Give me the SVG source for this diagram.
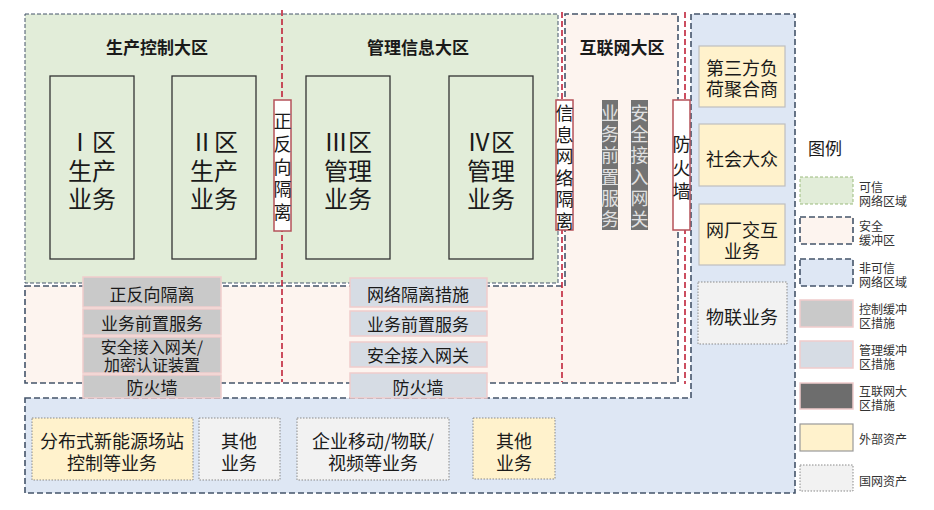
<svg xmlns="http://www.w3.org/2000/svg" width="934" height="510" viewBox="0 0 934 510">
<style>
text{font-family:"Noto Sans CJK SC","Noto Sans",sans-serif;fill:#1a1a1a;text-anchor:middle;dominant-baseline:central}
.t{font-size:17px;font-weight:bold}
.big{font-size:24px}
.v{font-size:18px}
.w{fill:#e0e0e0}
.m{font-size:17px}
.lg{font-size:12px;text-anchor:start;fill:#333}
.zb{stroke:#44546a;stroke-width:1.6;stroke-dasharray:6 3;fill:none}
.zg{stroke:#44546a;stroke-width:1;stroke-dasharray:4 2;fill:none}
.red{stroke:#c0243a;stroke-width:1.6;stroke-dasharray:6 3;fill:none}
.biz{fill:#e2edd9;stroke:#333;stroke-width:1.3}
.iso{fill:#fff;stroke:#b5525a;stroke-width:1.5}
.ctl{fill:#c9c9c9;stroke:#f0cccc;stroke-width:1.5}
.mgt{fill:#d6dce4;stroke:#f0cccc;stroke-width:1.5}
.net{fill:#737373}
.ext{fill:#fff2cc;stroke:#bfbfbf;stroke-width:1.2}
.sg{fill:#f2f2f2;stroke:#8a8a8a;stroke-width:1;stroke-dasharray:1.5 1.5}
.exd{fill:#fff2cc;stroke:#8a8a8a;stroke-width:1;stroke-dasharray:1.5 1.5}
</style>
<rect width="934" height="510" fill="#fff"/>
<g id="zones">
<path id="untrusted" d="M25,398 H691 V14 H795 V493 H25 Z" fill="#dee7f4"/>
<path d="M25,398 H691 V14 H795 V493 H25 Z" class="zb"/>
<path id="buffer" d="M25,286 H565 V14 H678 V383 H25 Z" fill="#fdf4ef"/>
<path d="M25,286 H565 V14 H678 V383 H25 Z" class="zb"/>
<rect id="trusted" x="25" y="14" width="533" height="269" fill="#e2edd9"/>
<rect x="25" y="14" width="533" height="269" class="zg"/>
</g>
<g id="connectors">
<line x1="282" y1="10" x2="282" y2="382" class="red"/>
<line x1="562" y1="12" x2="562" y2="382" class="red"/>
<line x1="685" y1="12" x2="685" y2="384" class="red"/>
</g>
<g id="titles">
<text class="t" x="157" y="46">生产控制大区</text>
<text class="t" x="418" y="46">管理信息大区</text>
<text class="t" x="622" y="46">互联网大区</text>
</g>
<g id="zone1">
<rect class="biz" x="50" y="76" width="84" height="183"/>
<text class="big" x="92" y="140">Ⅰ区<tspan x="92" dy="28.5">生产</tspan><tspan x="92" dy="28.5">业务</tspan></text>
</g>
<g id="zone2">
<rect class="biz" x="172" y="76" width="84" height="183"/>
<text class="big" x="214" y="140">Ⅱ区<tspan x="214" dy="28.5">生产</tspan><tspan x="214" dy="28.5">业务</tspan></text>
</g>
<g id="zone3">
<rect class="biz" x="306" y="76" width="84" height="183"/>
<text class="big" x="348" y="140">Ⅲ区<tspan x="348" dy="28.5">管理</tspan><tspan x="348" dy="28.5">业务</tspan></text>
</g>
<g id="zone4">
<rect class="biz" x="449" y="76" width="84" height="183"/>
<text class="big" x="491" y="140">Ⅳ区<tspan x="491" dy="28.5">管理</tspan><tspan x="491" dy="28.5">业务</tspan></text>
</g>
<g id="iso1">
<rect class="iso" x="274" y="100" width="17" height="131"/>
<text class="v" x="282.5" y="120">正<tspan x="282.5" dy="22.8">反</tspan><tspan x="282.5" dy="22.8">向</tspan><tspan x="282.5" dy="22.8">隔</tspan><tspan x="282.5" dy="22.8">离</tspan></text>
</g>
<g id="iso2">
<rect class="iso" x="556" y="100" width="17" height="130"/>
<text class="v" x="564.5" y="112">信<tspan x="564.5" dy="21.6">息</tspan><tspan x="564.5" dy="21.6">网</tspan><tspan x="564.5" dy="21.6">络</tspan><tspan x="564.5" dy="21.6">隔</tspan><tspan x="564.5" dy="21.6">离</tspan></text>
</g>
<g id="netfront">
<rect class="net" x="602" y="100" width="16" height="130"/>
<text class="v w" x="610" y="112">业<tspan x="610" dy="21.2">务</tspan><tspan x="610" dy="21.2">前</tspan><tspan x="610" dy="21.2">置</tspan><tspan x="610" dy="21.2">服</tspan><tspan x="610" dy="21.2">务</tspan></text>
</g>
<g id="netgw">
<rect class="net" x="631" y="100" width="17" height="130"/>
<text class="v w" x="639.5" y="112">安<tspan x="639.5" dy="21.2">全</tspan><tspan x="639.5" dy="21.2">接</tspan><tspan x="639.5" dy="21.2">入</tspan><tspan x="639.5" dy="21.2">网</tspan><tspan x="639.5" dy="21.2">关</tspan></text>
</g>
<g id="fw">
<rect class="iso" x="673" y="100" width="17" height="130"/>
<text class="v" x="681.5" y="143">防<tspan x="681.5" dy="23.5">火</tspan><tspan x="681.5" dy="23.5">墙</tspan></text>
</g>
<g id="ctl-measures">
<rect class="ctl" x="83" y="277" width="138" height="30"/><text class="m" x="152" y="293">正反向隔离</text>
<rect class="ctl" x="83" y="309" width="138" height="26"/><text class="m" x="152" y="322">业务前置服务</text>
<rect class="ctl" x="83" y="337" width="138" height="36"/><text class="m" x="152" y="346" style="font-size:16px">安全接入网关/<tspan x="152" dy="18">加密认证装置</tspan></text>
<rect class="ctl" x="83" y="375" width="138" height="23"/><text class="m" x="152" y="386">防火墙</text>
</g>
<g id="mgt-measures">
<rect class="mgt" x="350" y="278" width="137" height="29"/><text class="m" x="418" y="293">网络隔离措施</text>
<rect class="mgt" x="350" y="311" width="137" height="25"/><text class="m" x="418" y="323">业务前置服务</text>
<rect class="mgt" x="350" y="342" width="137" height="25"/><text class="m" x="418" y="354">安全接入网关</text>
<rect class="mgt" x="350" y="373" width="137" height="25"/><text class="m" x="418" y="386">防火墙</text>
</g>
<g id="ext1">
<rect class="ext" x="699" y="46" width="86" height="61"/><text class="v" x="742" y="67">第三方负<tspan x="742" dy="21">荷聚合商</tspan></text>
</g>
<g id="ext2">
<rect class="ext" x="699" y="124" width="86" height="62"/><text class="v" x="742" y="158">社会大众</text>
</g>
<g id="ext3">
<rect class="ext" x="699" y="204" width="86" height="61"/><text class="v" x="742" y="229">网厂交互<tspan x="742" dy="21">业务</tspan></text>
</g>
<g id="sg1">
<rect class="sg" x="698" y="282" width="89" height="62"/><text class="v" x="742" y="316">物联业务</text>
</g>
<g id="b1">
<rect class="exd" x="32" y="418" width="161" height="62"/><text class="v" x="112" y="440">分布式新能源场站<tspan x="112" dy="22">控制等业务</tspan></text>
</g>
<g id="b2">
<rect class="sg" x="199" y="418" width="81" height="62"/><text class="v" x="239" y="440">其他<tspan x="239" dy="22">业务</tspan></text>
</g>
<g id="b3">
<rect class="sg" x="297" y="418" width="152" height="62"/><text class="v" x="373" y="440">企业移动/物联/<tspan x="373" dy="22">视频等业务</tspan></text>
</g>
<g id="b4">
<rect class="exd" x="473" y="418" width="82" height="61"/><text class="v" x="514" y="440">其他<tspan x="514" dy="22">业务</tspan></text>
</g>
<g id="legend">
<text x="825" y="147" style="font-size:17px">图例</text>
<rect x="800" y="177" width="53" height="27" fill="#e2edd9" stroke="#9bbb7d" stroke-width="1" stroke-dasharray="3 2"/>
<text class="lg" x="859" y="186">可信<tspan x="859" dy="14">网络区域</tspan></text>
<rect x="800" y="217" width="53" height="27" class="zb" style="fill:#fdf4ef"/>
<text class="lg" x="859" y="225">安全<tspan x="859" dy="14">缓冲区</tspan></text>
<rect x="800" y="259" width="53" height="27" class="zb" style="fill:#dee7f4"/>
<text class="lg" x="859" y="267">非可信<tspan x="859" dy="14">网络区域</tspan></text>
<rect x="800" y="300" width="53" height="27" class="ctl"/>
<text class="lg" x="859" y="308">控制缓冲<tspan x="859" dy="14">区措施</tspan></text>
<rect x="800" y="341" width="53" height="27" class="mgt"/>
<text class="lg" x="859" y="349">管理缓冲<tspan x="859" dy="14">区措施</tspan></text>
<rect x="800" y="383" width="53" height="26" fill="#6d6d6d" stroke="#f0cccc" stroke-width="1.5"/>
<text class="lg" x="859" y="390">互联网大<tspan x="859" dy="14">区措施</tspan></text>
<rect x="800" y="424" width="53" height="27" class="ext" style="stroke:#999"/>
<text class="lg" x="859" y="438">外部资产</text>
<rect x="800" y="465" width="53" height="26" class="sg"/>
<text class="lg" x="859" y="480">国网资产</text>
</g>
</svg>
